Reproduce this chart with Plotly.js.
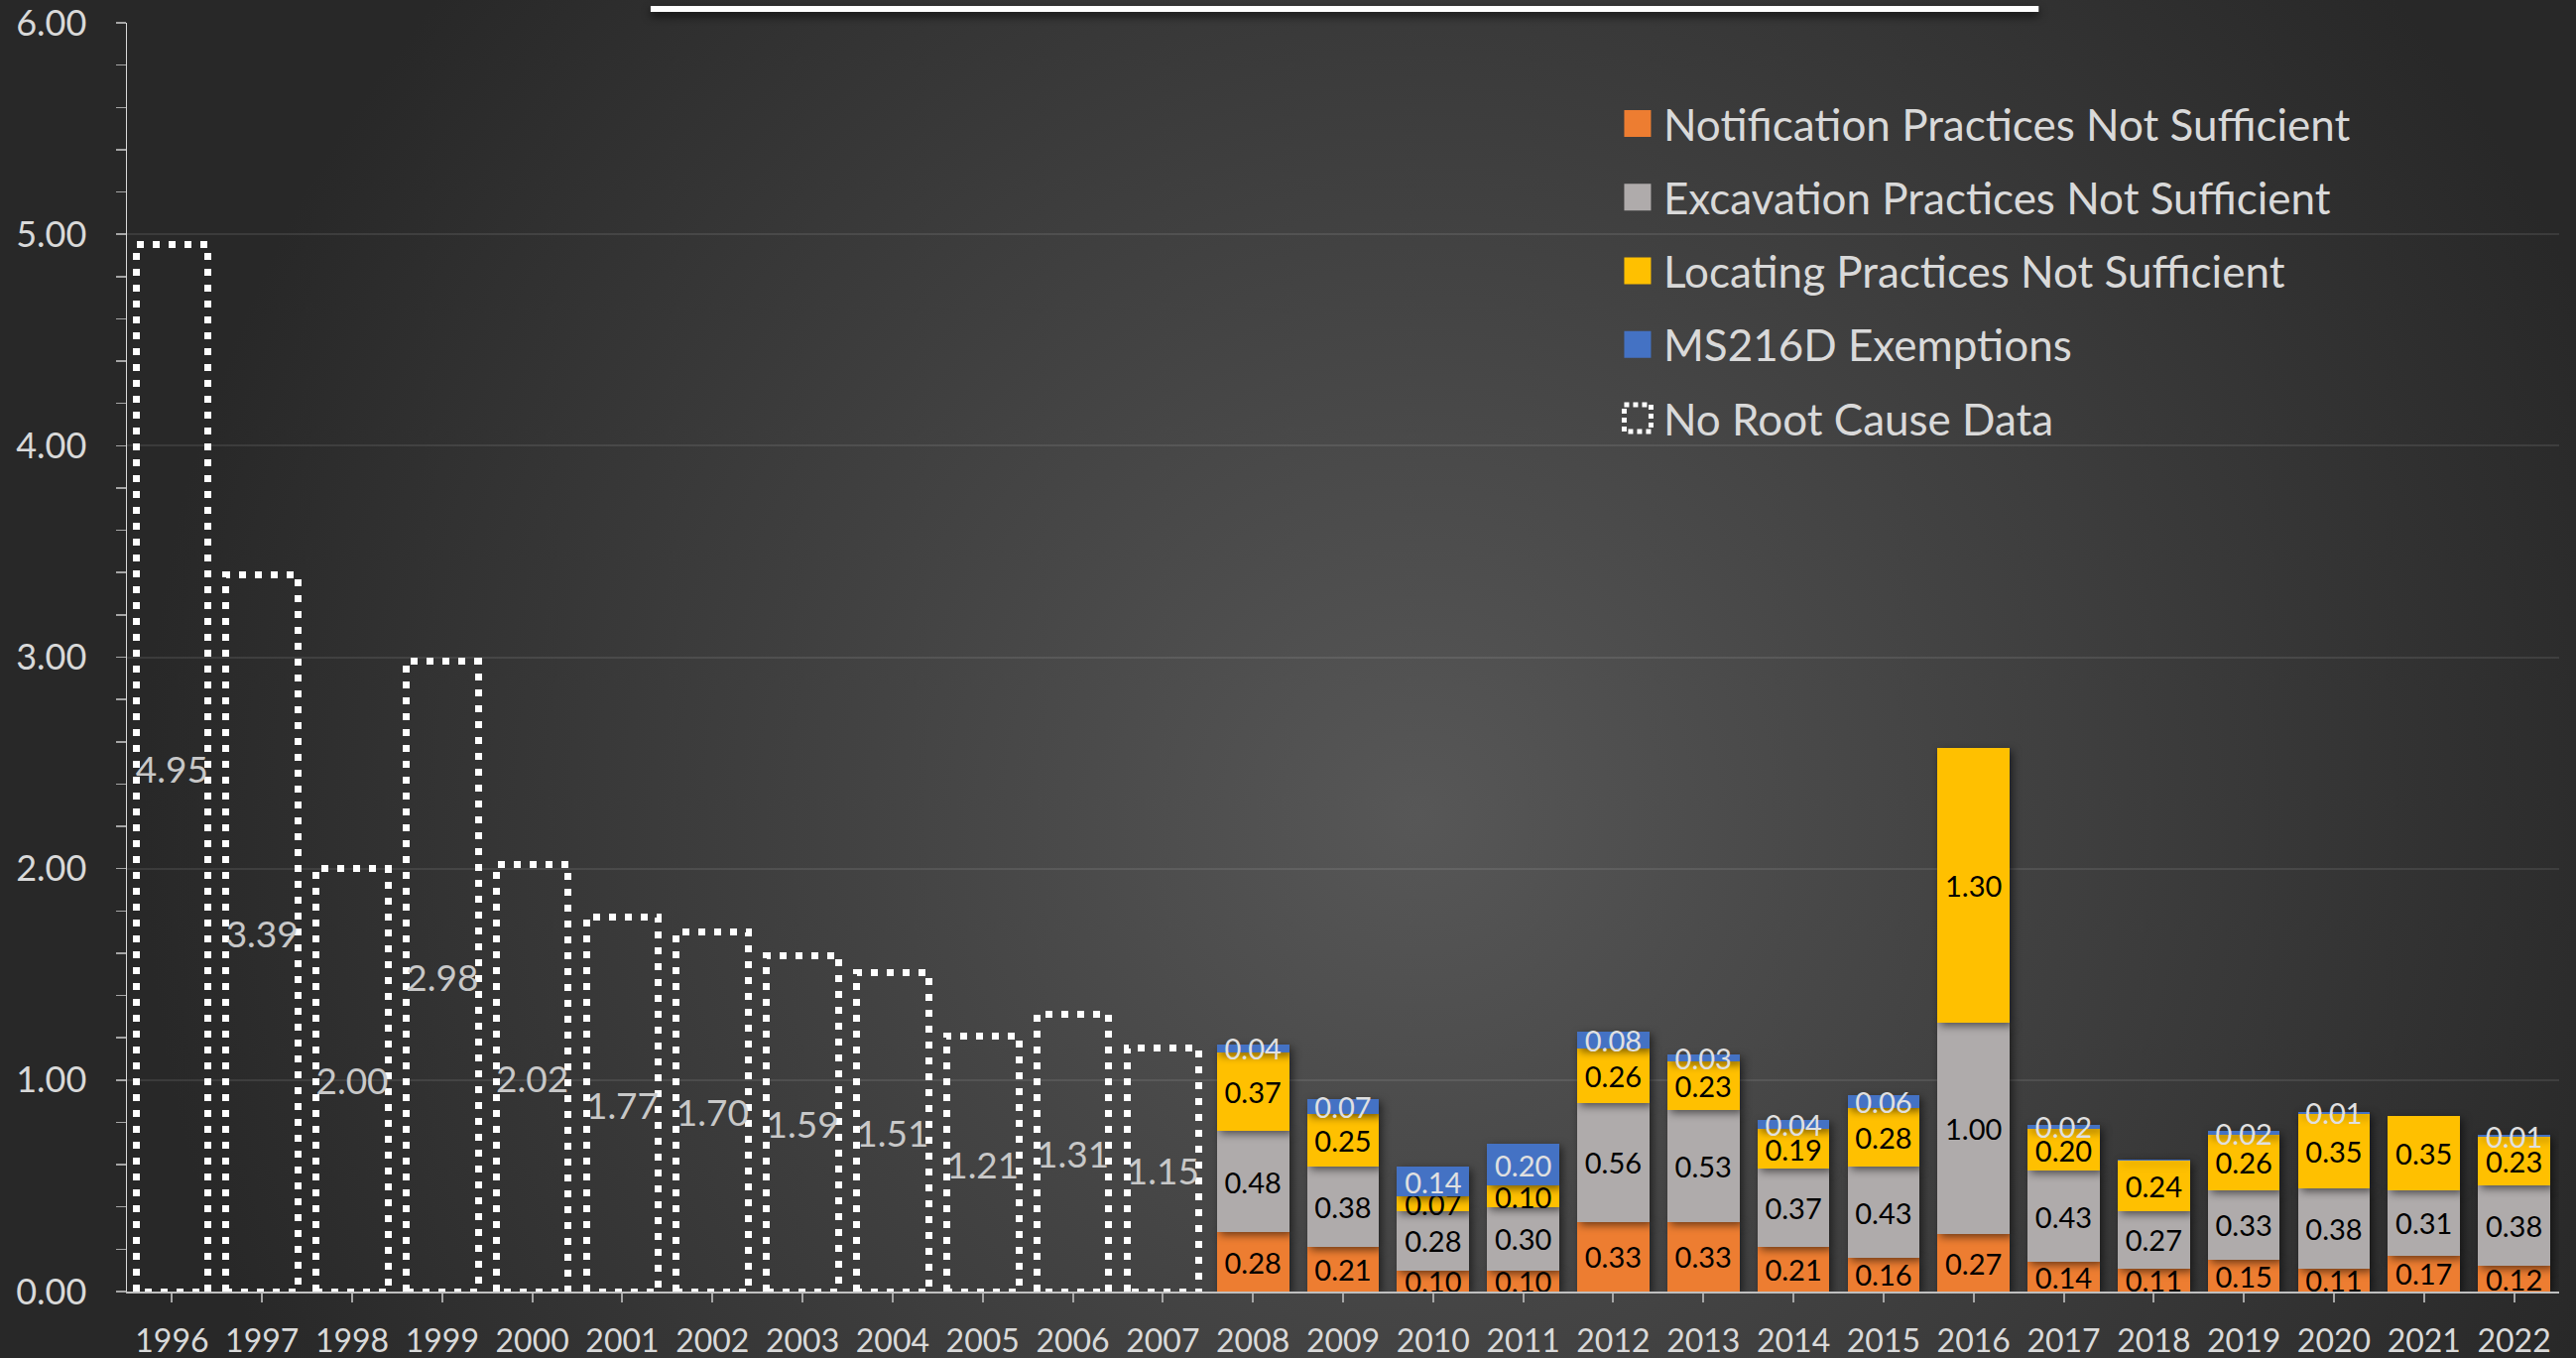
<!DOCTYPE html>
<html>
<head>
<meta charset="utf-8">
<script src="https://cdn.plot.ly/plotly-3.0.1.min.js"></script>
<style>
  html, body { margin: 0; padding: 0; }
  body {
    width: 2597px; height: 1369px; overflow: hidden;
    background: radial-gradient(circle at 55% 60%, #575757 0%, #3c3c3c 45%, #282828 78%);
  }
  #chart { width: 2597px; height: 1369px; }
  .barlayer .point path { filter: drop-shadow(3px 3px 4px rgba(0,0,0,0.55)); }
  .shapelayer path { filter: drop-shadow(0px 4px 4px rgba(0,0,0,0.7)); }
</style>
</head>
<body>
<div id="chart"></div>
<script>
// ---- data ----
const years = ['1996','1997','1998','1999','2000','2001','2002','2003','2004','2005','2006','2007',
               '2008','2009','2010','2011','2012','2013','2014','2015','2016','2017','2018','2019','2020','2021','2022'];
const noDataYears = ['1996','1997','1998','1999','2000','2001','2002','2003','2004','2005','2006','2007'];
const noRootCause = [4.95, 3.39, 2.00, 2.98, 2.02, 1.77, 1.70, 1.59, 1.51, 1.21, 1.31, 1.15];
const causeYears = ['2008','2009','2010','2011','2012','2013','2014','2015','2016','2017','2018','2019','2020','2021','2022'];
const notification = [0.28, 0.21, 0.10, 0.10, 0.33, 0.33, 0.21, 0.16, 0.27, 0.14, 0.11, 0.15, 0.11, 0.17, 0.12];
const excavation   = [0.48, 0.38, 0.28, 0.30, 0.56, 0.53, 0.37, 0.43, 1.00, 0.43, 0.27, 0.33, 0.38, 0.31, 0.38];
const locating     = [0.37, 0.25, 0.07, 0.10, 0.26, 0.23, 0.19, 0.28, 1.30, 0.20, 0.24, 0.26, 0.35, 0.35, 0.23];
const exemptions   = [0.04, 0.07, 0.14, 0.20, 0.08, 0.03, 0.04, 0.06, 0.00, 0.02, 0.005, 0.02, 0.01, 0.00, 0.01];

const FONT = 'Lato, "Open Sans", sans-serif';
const fmt = v => v.toFixed(2);
const lbl = v => (v >= 0.01 ? v.toFixed(2) : '');

function stackTrace(name, ys, color, textColor, labels) {
  return {
    type: 'bar', name: name, legendgroup: name,
    x: causeYears, y: ys,
    marker: { color: color, line: { width: 0 } },
    text: labels, textposition: 'inside', insidetextanchor: 'middle',
    textangle: 0, constraintext: 'none', cliponaxis: true,
    textfont: { family: FONT, size: 29, color: textColor },
    insidetextfont: { family: FONT, size: 29, color: textColor },
    hoverinfo: 'x+y+name'
  };
}

const data = [
  stackTrace('Notification Practices Not Sufficient', notification, '#ED7D31', '#000000', notification.map(fmt)),
  stackTrace('Excavation Practices Not Sufficient', excavation, '#AFABAB', '#000000', excavation.map(fmt)),
  stackTrace('Locating Practices Not Sufficient', locating, '#FFC000', '#000000', locating.map(fmt)),
  stackTrace('MS216D Exemptions', exemptions, '#4472C4', '#E0E0E0', exemptions.map(lbl)),
  {
    type: 'bar', name: 'No Root Cause Data', legendgroup: 'nodata',
    x: noDataYears, y: noRootCause,
    marker: { color: 'rgba(0,0,0,0)', line: { color: '#FFFFFF', width: 7 } },
    text: noRootCause.map(fmt), textposition: 'inside', insidetextanchor: 'middle',
    textangle: 0, constraintext: 'none',
    textfont: { family: FONT, size: 37, color: '#C8C8C8' },
    insidetextfont: { family: FONT, size: 37, color: '#C8C8C8' }
  }
];

const layout = {
  width: 2597, height: 1369,
  paper_bgcolor: 'rgba(0,0,0,0)', plot_bgcolor: 'rgba(0,0,0,0)',
  margin: { l: 128, r: 17, t: 23, b: 67 },
  barmode: 'stack', bargap: 0.2,
  font: { family: FONT, color: '#D9D9D9' },
  showlegend: true,
  legend: {
    x: 0.6105, y: 0.948, xanchor: 'left', yanchor: 'top',
    traceorder: 'grouped', tracegroupgap: 14, itemwidth: 42,
    bgcolor: 'rgba(0,0,0,0)', borderwidth: 0,
    font: { family: FONT, size: 44, color: '#D9D9D9' }
  },
  xaxis: {
    type: 'category', categoryorder: 'array', categoryarray: years,
    tickvals: years, ticktext: years,
    ticks: 'outside', ticklen: 9, tickwidth: 2, tickcolor: '#A6A6A6',
    showline: true, linecolor: '#BFBFBF', linewidth: 2,
    showgrid: false, zeroline: false,
    tickfont: { family: FONT, size: 32, color: '#D9D9D9' },
    ticklabelstandoff: 12, ticklabeloverflow: 'allow'
  },
  yaxis: {
    range: [0, 6], dtick: 1, tickformat: '.2f',
    ticks: 'outside', ticklen: 10, tickwidth: 1.5, tickcolor: '#A6A6A6',
    minor: { dtick: 0.2, ticks: 'outside', ticklen: 10, tickwidth: 1.5, tickcolor: '#A6A6A6', showgrid: false },
    showline: true, linecolor: '#D9D9D9', linewidth: 1.5,
    showgrid: true, gridcolor: 'rgba(255,255,255,0.09)', gridwidth: 2,
    zeroline: false,
    tickfont: { family: FONT, size: 36, color: '#D9D9D9' },
    ticklabelstandoff: 22, ticklabeloverflow: 'allow'
  },
  shapes: [
    { type: 'rect', xref: 'paper', yref: 'paper', x0: 0.2153, x1: 0.786, y0: 1.0086, y1: 1.0133,
      fillcolor: '#FFFFFF', line: { width: 0 }, layer: 'above' }
  ]
};

Plotly.newPlot('chart', data, layout, { staticPlot: true, displayModeBar: false }).then(gd => {
  // dotted outline for "No Root Cause Data"
  const traces = gd.querySelectorAll('.barlayer .trace');
  const last = traces[traces.length - 1];
  last.querySelectorAll('.point path').forEach(p => {
    p.style.strokeDasharray = '7px 9px';
    p.style.strokeLinecap = 'butt';
    p.style.filter = 'none';
  });
  // bigger legend squares
  gd.querySelectorAll('.legend .traces').forEach(t => {
    const txt = t.querySelector('.legendtext');
    t.querySelectorAll('.legendpoints path').forEach(p => {
      p.setAttribute('d', 'M13.5,13.5H-13.5V-13.5H13.5Z');
      if (txt && txt.textContent === 'No Root Cause Data') {
        p.style.strokeWidth = '5px';
        p.style.strokeDasharray = '5px 4px';
        p.style.fill = 'rgba(0,0,0,0)';
      }
    });
  });
});
</script>
</body>
</html>
